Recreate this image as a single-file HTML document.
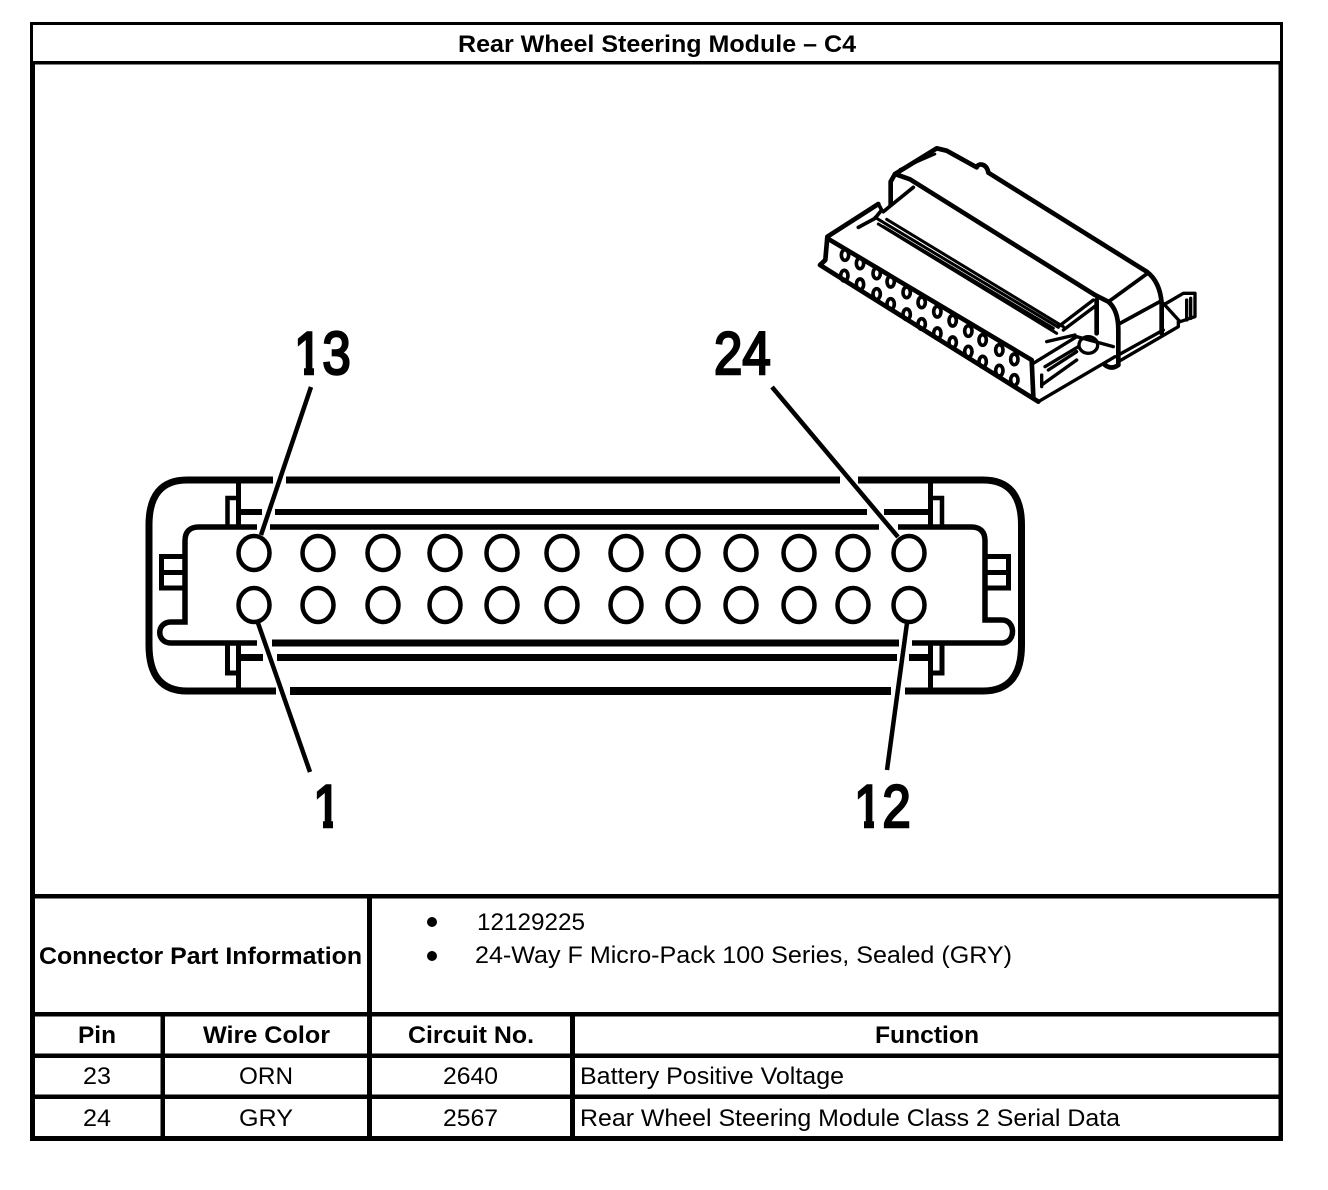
<!DOCTYPE html>
<html><head><meta charset="utf-8"><style>
html,body{margin:0;padding:0;background:#fff;width:1328px;height:1190px;overflow:hidden}
svg{display:block}
text{font-family:"Liberation Sans",Arial,sans-serif;fill:#000}
.b{font-weight:bold;font-size:24px}
.r{font-size:24px}
.big{font-size:60px;stroke:#000;stroke-width:2.5px}
</style></head><body>
<svg width="1328" height="1190" viewBox="0 0 1328 1190" xmlns="http://www.w3.org/2000/svg">
<rect width="1328" height="1190" fill="#fff"/>
<!-- frame and table -->
<g fill="#000">
<rect x="30" y="22" width="1253" height="3"/>
<rect x="30" y="61" width="1253" height="3.5"/>
<rect x="30" y="22" width="3" height="42"/>
<rect x="1280" y="22" width="3" height="42"/>
<rect x="30" y="64" width="5" height="1077"/>
<rect x="1278.5" y="64" width="4.5" height="1077"/>
<rect x="30" y="894" width="1253" height="4.5"/>
<rect x="30" y="1012" width="1253" height="4.5"/>
<rect x="30" y="1053.5" width="1253" height="4.5"/>
<rect x="30" y="1094.5" width="1253" height="4.5"/>
<rect x="30" y="1136" width="1253" height="5"/>
<rect x="367" y="894" width="5" height="247"/>
<rect x="160.5" y="1012" width="4.5" height="129"/>
<rect x="570" y="1012" width="5" height="129"/>
<circle cx="432" cy="922" r="5"/>
<circle cx="432" cy="956" r="5"/>
</g>
<text class="b" x="458" y="52" textLength="398" lengthAdjust="spacingAndGlyphs">Rear Wheel Steering Module – C4</text>
<text class="b" x="39" y="964" textLength="323" lengthAdjust="spacingAndGlyphs">Connector Part Information</text>
<text class="r" x="477" y="930" textLength="108" lengthAdjust="spacingAndGlyphs">12129225</text>
<text class="r" x="475" y="963" textLength="537" lengthAdjust="spacingAndGlyphs">24-Way F Micro-Pack 100 Series, Sealed (GRY)</text>
<text class="b" x="78" y="1043" textLength="38" lengthAdjust="spacingAndGlyphs">Pin</text>
<text class="b" x="203" y="1043" textLength="127" lengthAdjust="spacingAndGlyphs">Wire Color</text>
<text class="b" x="408" y="1043" textLength="126" lengthAdjust="spacingAndGlyphs">Circuit No.</text>
<text class="b" x="875" y="1043" textLength="104" lengthAdjust="spacingAndGlyphs">Function</text>
<text class="r" x="83" y="1084" textLength="28" lengthAdjust="spacingAndGlyphs">23</text>
<text class="r" x="239" y="1084" textLength="54" lengthAdjust="spacingAndGlyphs">ORN</text>
<text class="r" x="443" y="1084" textLength="55" lengthAdjust="spacingAndGlyphs">2640</text>
<text class="r" x="580" y="1084" textLength="264" lengthAdjust="spacingAndGlyphs">Battery Positive Voltage</text>
<text class="r" x="83" y="1126" textLength="28" lengthAdjust="spacingAndGlyphs">24</text>
<text class="r" x="239" y="1126" textLength="54" lengthAdjust="spacingAndGlyphs">GRY</text>
<text class="r" x="443" y="1126" textLength="55" lengthAdjust="spacingAndGlyphs">2567</text>
<text class="r" x="580" y="1126" textLength="540" lengthAdjust="spacingAndGlyphs">Rear Wheel Steering Module Class 2 Serial Data</text>

<!-- connector face -->
<g fill="none" stroke="#000" stroke-linecap="butt">
<path stroke-width="7" d="M273 480H187Q149 480 149 525V645Q149 691 187 691H276"/>
<path stroke-width="7" d="M286 480H840M858 480H983Q1021.500 480 1021.500 525V645Q1021.500 691 983 691H905"/>
<path stroke-width="8" d="M290 691H891"/>
<path stroke-width="6" d="M241 512H262M275 512H867M884 512H930"/>
<path stroke-width="7" d="M240 657.500H263M277 657.500H897M909 657.500H930"/>
<path stroke-width="5.500" d="M257 527H199Q185 527 185 541V622H171C156 622 156 643 171 643H257"/>
<path stroke-width="5.500" d="M270 527H879"/>
<path stroke-width="5.500" d="M898 527H971Q985 527 985 541V620H1002C1016 620 1016 643 1002 643H912"/>
<path stroke-width="7" d="M272 643H899"/>
<path stroke-width="5" d="M238.500 482V527M238.500 643V690M930.500 482V527M930.500 643V690"/>
<path stroke-width="4.500" d="M238 498H227.500V526"/>
<path stroke-width="5" d="M227.500 645V673H238"/>
<path stroke-width="4.500" d="M931 498H942V526"/>
<path stroke-width="5" d="M942 645V673H931"/>
<path stroke-width="5" d="M184 556.500H161.500V588H184M162 572.500H184"/>
<path stroke-width="5" d="M986 556.500H1008.500V588H986M986 572.500H1008"/>
<path stroke-width="4.500" d="M311 387L261 535"/>
<path stroke-width="4.500" d="M258 623L310 772"/>
<path stroke-width="4.500" d="M772 387L898 537"/>
<path stroke-width="4.500" d="M907 623L887 770"/>
<g stroke-width="4.500">
<ellipse cx="254" cy="553" rx="15.500" ry="17"/><ellipse cx="318" cy="553" rx="15.500" ry="17"/><ellipse cx="383" cy="553" rx="15.500" ry="17"/><ellipse cx="445" cy="553" rx="15.500" ry="17"/><ellipse cx="502" cy="553" rx="15.500" ry="17"/><ellipse cx="562" cy="553" rx="15.500" ry="17"/>
<ellipse cx="626" cy="553" rx="15.500" ry="17"/><ellipse cx="683" cy="553" rx="15.500" ry="17"/><ellipse cx="741" cy="553" rx="15.500" ry="17"/><ellipse cx="799" cy="553" rx="15.500" ry="17"/><ellipse cx="853" cy="553" rx="15.500" ry="17"/><ellipse cx="909" cy="553" rx="15.500" ry="17"/>
<ellipse cx="254" cy="605" rx="15.500" ry="17"/><ellipse cx="318" cy="605" rx="15.500" ry="17"/><ellipse cx="383" cy="605" rx="15.500" ry="17"/><ellipse cx="445" cy="605" rx="15.500" ry="17"/><ellipse cx="502" cy="605" rx="15.500" ry="17"/><ellipse cx="562" cy="605" rx="15.500" ry="17"/>
<ellipse cx="626" cy="605" rx="15.500" ry="17"/><ellipse cx="683" cy="605" rx="15.500" ry="17"/><ellipse cx="741" cy="605" rx="15.500" ry="17"/><ellipse cx="799" cy="605" rx="15.500" ry="17"/><ellipse cx="853" cy="605" rx="15.500" ry="17"/><ellipse cx="909" cy="605" rx="15.500" ry="17"/>
</g>
</g>
<!-- big labels -->
<text class="big" transform="translate(294 374) scale(.85 1)">13</text>
<text class="big" transform="translate(714 374) scale(.85 1)">24</text>
<text class="big" transform="translate(313 827) scale(.85 1)">1</text>
<text class="big" transform="translate(854 827) scale(.85 1)">12</text>
<!-- trim the foot of each "1" so it reads as a plain stem -->
<g fill="#fff">
<rect x="292" y="368" width="12" height="9"/><rect x="314" y="368" width="9" height="9"/>
<rect x="311" y="821" width="12" height="9"/><rect x="333" y="821" width="12" height="9"/>
<rect x="852" y="821" width="12" height="9"/><rect x="874" y="821" width="9" height="9"/>
</g>

<!-- isometric connector -->
<g transform="translate(800 130) scale(.33333)" fill="none" stroke="#000" stroke-width="14" stroke-linejoin="round" stroke-linecap="round">
<path d="M285 132L410 55L440 62L530 112C535 98 560 100 565 128L1040 425Q1080 455 1085 520V610"/>
<path stroke-width="8" d="M300 118L405 72"/>
<path d="M285 132L272 155V225M285 132L330 148L885 495L925 515Q955 540 955 600V705"/>
<path stroke-width="11" d="M340 172L250 245"/>
<path d="M235 222L82 320L76 390L60 405L715 815"/>
<path stroke-width="11" d="M235 222L245 240L225 265L175 292"/>
<path d="M82 325L695 690L700 800"/>
<path stroke-width="9" d="M225 262L775 592M235 282L770 610M260 268L790 590M250 290L760 595"/>
<path stroke-width="10" d="M775 590L880 510M790 600L890 525"/>
<path d="M890 510V610"/>
<path stroke-width="11" d="M930 512L1040 432M960 580L1085 512"/>
<path stroke-width="10" d="M1090 525L1150 490H1185V560L1140 575L1090 520M1160 510V570M1172 505V565"/>
<path stroke-width="10" d="M955 695L1135 590L1135 575M955 675L1090 600"/>
<path stroke-width="10" d="M715 815L945 680M700 700L830 620L940 650M740 635L825 615"/>
<path stroke-width="10" d="M725 765L830 690M725 735V770M735 710L835 650M745 720L830 665"/>
<ellipse cx="865" cy="645" rx="28" ry="25" stroke-width="10"/>
<path d="M915 705Q935 720 955 705"/>
<g stroke-width="11">
<ellipse cx="135" cy="375" rx="11" ry="16"/><ellipse cx="180" cy="400" rx="11" ry="16"/><ellipse cx="230" cy="430" rx="11" ry="16"/><ellipse cx="272" cy="455" rx="11" ry="16"/><ellipse cx="320" cy="487" rx="11" ry="16"/><ellipse cx="365" cy="517" rx="11" ry="16"/><ellipse cx="412" cy="545" rx="11" ry="16"/><ellipse cx="458" cy="572" rx="11" ry="16"/><ellipse cx="505" cy="603" rx="11" ry="16"/><ellipse cx="548" cy="630" rx="11" ry="16"/><ellipse cx="598" cy="660" rx="11" ry="16"/><ellipse cx="643" cy="688" rx="11" ry="16"/>
<ellipse cx="133" cy="437" rx="11" ry="16"/><ellipse cx="180" cy="463" rx="11" ry="16"/><ellipse cx="230" cy="492" rx="11" ry="16"/><ellipse cx="272" cy="522" rx="11" ry="16"/><ellipse cx="320" cy="553" rx="11" ry="16"/><ellipse cx="365" cy="582" rx="11" ry="16"/><ellipse cx="412" cy="610" rx="11" ry="16"/><ellipse cx="458" cy="637" rx="11" ry="16"/><ellipse cx="505" cy="665" rx="11" ry="16"/><ellipse cx="548" cy="695" rx="11" ry="16"/><ellipse cx="598" cy="722" rx="11" ry="16"/><ellipse cx="643" cy="750" rx="11" ry="16"/>
</g>
</g>
</svg>
</body></html>
